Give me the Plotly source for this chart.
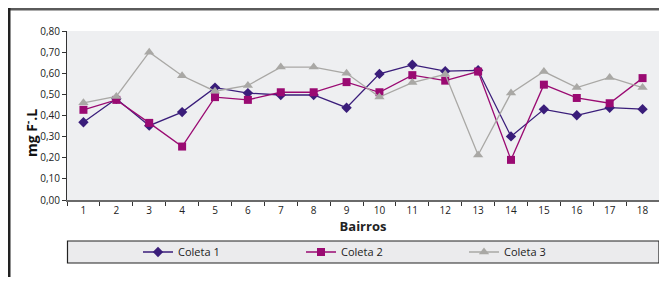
import plotly.graph_objects as go

bairros = [str(i) for i in range(1, 19)]
coleta1 = [0.368, 0.479, 0.352, 0.416, 0.532, 0.506, 0.497, 0.497, 0.437, 0.597, 0.640, 0.610, 0.614, 0.301, 0.429, 0.401, 0.437, 0.430]
coleta2 = [0.427, 0.474, 0.365, 0.253, 0.487, 0.474, 0.510, 0.510, 0.558, 0.510, 0.591, 0.565, 0.608, 0.190, 0.546, 0.483, 0.458, 0.577]
coleta3 = [0.460, 0.490, 0.700, 0.588, 0.515, 0.542, 0.629, 0.629, 0.600, 0.487, 0.556, 0.595, 0.213, 0.506, 0.608, 0.532, 0.580, 0.532]
y_ticks = [0.0, 0.1, 0.2, 0.3, 0.4, 0.5, 0.6, 0.7, 0.8]

# page has an 8px body margin; figure fills the rest of the 667x285 window
OFF = 8
W, H = 651, 269
L, R, T, B = 59, 0, 23, 77
pw, ph = W - L - R, H - T - B

def px(x):  # page x -> paper
    return (x - OFF - L) / pw

def py(y):  # page y -> paper
    return (H - B - (y - OFF)) / ph

fig = go.Figure()
fig.add_trace(go.Scatter(x=bairros, y=coleta1, name="Coleta 1", mode="lines+markers",
                         line=dict(color="#3a1d7a", width=1.3),
                         marker=dict(symbol="diamond", size=8, color="#3a1d7a")))
fig.add_trace(go.Scatter(x=bairros, y=coleta2, name="Coleta 2", mode="lines+markers",
                         line=dict(color="#9a0a72", width=1.3),
                         marker=dict(symbol="square", size=8, color="#9a0a72")))
fig.add_trace(go.Scatter(x=bairros, y=coleta3, name="Coleta 3", mode="lines+markers",
                         line=dict(color="#a9a8a5", width=1.3),
                         marker=dict(symbol="triangle-up", size=9, color="#a9a8a5")))

shapes = [
    # outer frame
    dict(type="rect", xref="paper", yref="paper", x0=px(8), x1=px(667), y0=py(8), y1=py(10.5),
         line=dict(width=0), fillcolor="#5a5a5a", layer="above"),
    dict(type="rect", xref="paper", yref="paper", x0=px(8), x1=px(10.5), y0=py(8), y1=py(277),
         line=dict(width=0), fillcolor="#222222", layer="above"),
    # legend box
    dict(type="rect", xref="paper", yref="paper", x0=px(67.5), x1=px(659), y0=py(241), y1=py(263),
         line=dict(color="#222222", width=1.2), fillcolor="#ebebed", layer="below"),
]

fig.update_layout(
    width=W, height=H,
    margin=dict(l=L, r=R, t=T, b=B, autoexpand=False),
    paper_bgcolor="white",
    plot_bgcolor="#eeeff1",
    separators=",.",
    font=dict(family="Open Sans", size=10, color="#222222"),
    showlegend=True,
    legend=dict(orientation="h", x=px(138), xanchor="left", y=py(252), yanchor="middle",
                bgcolor="rgba(0,0,0,0)", entrywidth=118, font=dict(size=11, color="#222222"),
                itemwidth=30),
    shapes=shapes,
    xaxis=dict(type="category", range=[-0.5, 17.5], showgrid=False, ticks="outside",
               tickson="boundaries", ticklen=4, tickcolor="#333333", showline=True,
               linecolor="#6a6a6a", linewidth=2, tickfont=dict(size=10), zeroline=False,
               title=dict(text="<b>Bairros</b>", font=dict(size=13), standoff=4)),
    yaxis=dict(range=[0, 0.8], tickvals=y_ticks, tickformat=".2f", showgrid=False,
               ticks="outside", ticklen=4, tickcolor="#333333", showline=True,
               linecolor="#333333", linewidth=1, zeroline=False, tickfont=dict(size=10)),
    annotations=[dict(text="<b>mg F<sup>-</sup>.L</b>", xref="paper", yref="paper",
                      x=px(31), y=py(133), xanchor="center", yanchor="middle",
                      textangle=-90, showarrow=False,
                      font=dict(size=14, color="#111111"))],
)

fig.write_html("out.html", config={"displayModeBar": False})
